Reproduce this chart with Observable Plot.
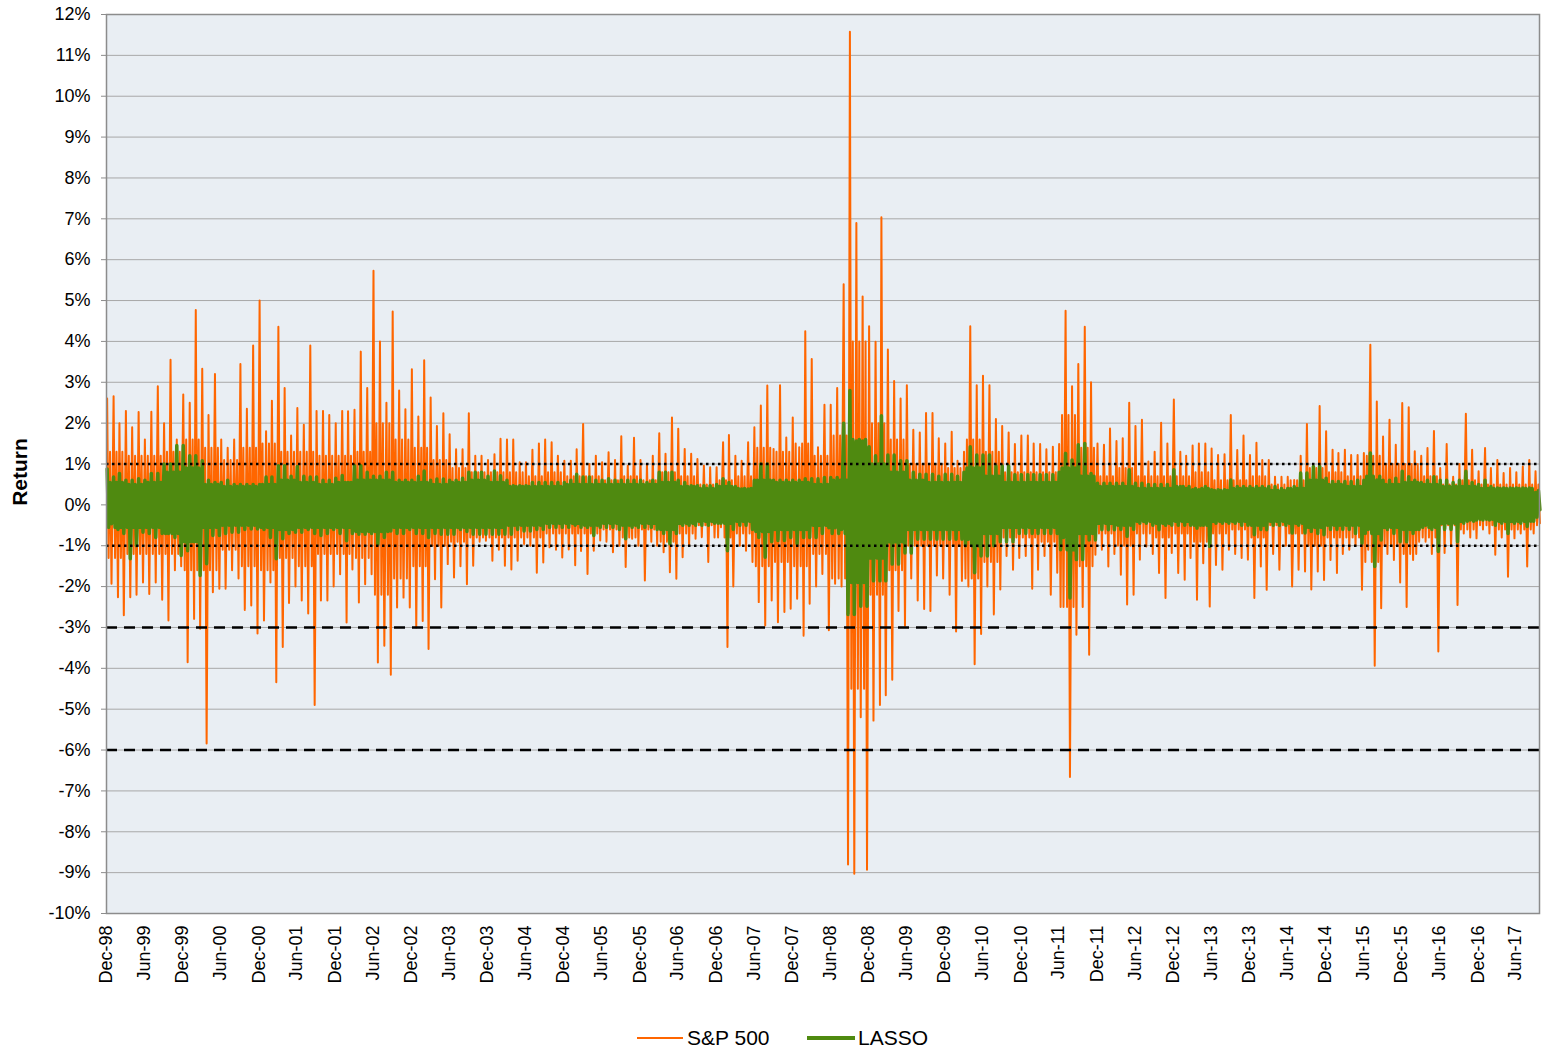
<!DOCTYPE html>
<html><head><meta charset="utf-8">
<script src="https://cdn.jsdelivr.net/npm/d3@7"></script>
<script src="https://cdn.jsdelivr.net/npm/@observablehq/plot@0.6"></script>
<style>
body{margin:0;background:#fff;font-family:"Liberation Sans",Arial,sans-serif;}
#wrap{position:relative;width:1544px;height:1048px;overflow:hidden;}
#chart{position:absolute;left:0;top:0;}
.item{position:absolute;top:1024px;height:28px;display:flex;align-items:center;font-size:21px;color:#000;white-space:nowrap;}
.sw{display:inline-block;width:46px;margin-right:4px;}
</style></head><body><div id="wrap"><div id="chart"></div>
<div class="item" style="left:637px"><span class="sw" style="height:2px;background:#FF6600"></span>S&amp;P 500</div>
<div class="item" style="left:807px"><span class="sw" style="height:4px;background:#4F8A10;width:48px;margin-right:3px"></span>LASSO</div>
</div>
<script>
// Monthly extremes of daily returns (%), Jan-1999 .. Oct-2017, one row per year
const spHi = [
 2.6, 2.66, 2.0, 2.3, 1.9, 2.27, 1.6, 2.28, 2.9, 2.0, 3.55, 1.6,
 2.7, 2.5, 4.77, 3.33, 2.2, 3.2, 1.6, 1.4, 1.6, 3.45, 2.35, 3.9,
 5.0, 1.8, 2.55, 4.36, 2.86, 1.7, 2.37, 1.96, 3.9, 2.3, 2.3, 2.2,
 2.0, 2.3, 2.29, 2.33, 3.75, 2.86, 5.73, 4.0, 2.5, 4.73, 2.8, 2.34,
 3.32, 2.16, 3.54, 2.63, 1.93, 2.24, 1.73, 1.36, 1.36, 2.24, 1.2, 1.2,
 1.1, 1.24, 1.62, 1.6, 1.6, 1.04, 1.04, 1.35, 1.5, 1.6, 1.53, 1.2,
 1.08, 1.08, 1.36, 1.98, 1.0, 1.2, 1.04, 1.29, 1.1, 1.68, 0.96, 1.64,
 1.1, 1.0, 1.2, 1.75, 1.25, 2.14, 1.86, 1.37, 1.25, 1.12, 0.96, 0.92,
 0.92, 1.53, 1.71, 1.2, 1.08, 1.53, 1.9, 2.43, 2.92, 1.37, 2.93, 1.65,
 2.14, 1.41, 4.25, 3.57, 1.41, 2.45, 2.45, 2.86, 5.4, 11.58, 6.9, 5.1,
 4.37, 3.99, 7.04, 3.8, 3.03, 2.6, 2.93, 1.84, 1.77, 2.25, 2.25, 1.63,
 1.5, 1.79, 1.08, 1.3, 4.37, 2.93, 3.16, 2.93, 2.1, 1.93, 1.77, 1.49,
 1.7, 1.7, 1.5, 1.49, 1.36, 1.42, 1.49, 4.75, 2.9, 3.45, 4.36, 3.0,
 1.5, 1.47, 1.87, 1.56, 1.63, 2.5, 1.93, 2.08, 1.06, 1.3, 2.01, 1.5,
 2.58, 1.3, 1.2, 1.45, 1.5, 1.5, 1.38, 1.22, 1.24, 2.2, 1.34, 1.7,
 1.22, 1.52, 1.1, 1.1, 0.69, 0.69, 0.69, 0.61, 1.2, 1.98, 0.94, 2.42,
 1.8, 1.35, 1.27, 1.35, 1.22, 1.22, 1.27, 3.92, 2.53, 1.67, 2.08, 1.47,
 2.49, 2.39, 1.31, 1.2, 1.39, 1.81, 0.9, 1.49, 0.69, 1.0, 2.23, 1.35,
 0.82, 1.39, 0.9, 1.1, 0.78, 0.9, 0.8, 0.94, 1.1, 0.82
];
const spLo = [
 -1.93, -2.26, -2.7, -2.26, -2.2, -1.9, -2.18, -1.9, -2.32, -2.83, -1.6, -1.5,
 -3.85, -2.79, -3.03, -5.84, -2.14, -2.05, -2.05, -1.6, -1.8, -2.57, -2.46, -3.15,
 -2.83, -1.9, -4.34, -3.48, -2.4, -2.0, -2.34, -2.66, -4.9, -2.34, -2.34, -2.0,
 -1.7, -2.88, -1.58, -2.39, -1.94, -1.7, -3.86, -3.45, -4.16, -2.51, -2.27, -2.51,
 -3.0, -2.84, -3.53, -1.82, -2.51, -1.45, -1.78, -1.5, -1.94, -1.49, -0.9, -0.88,
 -1.37, -1.1, -1.49, -1.58, -1.37, -0.96, -1.0, -1.66, -1.41, -1.04, -1.1, -1.29,
 -1.09, -1.48, -1.13, -1.69, -1.12, -0.87, -0.9, -1.16, -1.0, -1.52, -0.83, -1.0,
 -1.85, -0.9, -1.0, -1.16, -1.65, -1.81, -1.28, -1.0, -0.83, -0.79, -1.4, -0.8,
 -0.55, -3.48, -2.0, -1.0, -1.12, -1.4, -2.38, -2.95, -2.34, -2.87, -2.62, -2.54,
 -2.3, -3.2, -2.42, -2.0, -1.69, -3.07, -1.93, -2.0, -8.8, -9.03, -5.2, -8.93,
 -5.28, -4.9, -4.66, -4.28, -2.6, -2.96, -1.8, -2.34, -2.55, -2.6, -1.73, -1.8,
 -2.2, -3.1, -1.86, -2.0, -3.9, -3.16, -2.0, -2.68, -2.07, -1.25, -1.59, -1.3,
 -1.25, -2.05, -1.59, -1.25, -2.2, -1.66, -2.5, -6.66, -3.18, -2.5, -3.67, -1.22,
 -1.1, -1.51, -1.2, -1.71, -2.44, -2.2, -1.34, -1.02, -1.2, -1.67, -2.28, -1.18,
 -1.67, -1.83, -1.3, -2.32, -1.43, -2.49, -1.47, -1.59, -1.1, -1.2, -1.3, -1.34,
 -2.28, -1.51, -2.08, -1.2, -1.59, -1.0, -2.0, -1.59, -1.63, -2.07, -1.63, -1.84,
 -1.35, -1.67, -1.2, -1.1, -1.0, -2.08, -1.1, -3.94, -2.53, -1.2, -1.35, -1.9,
 -2.5, -1.35, -0.9, -0.9, -1.2, -3.59, -1.18, -1.0, -2.45, -0.7, -0.8, -0.82,
 -0.6, -0.7, -1.22, -0.8, -1.76, -0.82, -0.7, -1.51, -0.7, -0.45
];
const lsHi = [
 0.88, 0.68, 0.77, 0.6, 0.6, 0.64, 0.6, 0.77, 0.77, 1.0, 1.0, 1.45,
 1.45, 1.2, 1.2, 1.08, 0.6, 0.55, 0.55, 0.6, 0.5, 0.5, 0.5, 0.5,
 0.5, 0.68, 0.68, 0.96, 0.96, 0.7, 0.94, 0.7, 0.68, 0.68, 0.6, 0.6,
 0.65, 0.72, 0.55, 0.96, 0.96, 0.8, 0.7, 0.7, 0.8, 0.8, 0.6, 0.6,
 0.6, 0.7, 0.83, 0.6, 0.63, 0.63, 0.6, 0.6, 0.65, 0.8, 0.8, 0.8,
 0.7, 0.83, 0.71, 0.6, 0.47, 0.47, 0.47, 0.55, 0.55, 0.55, 0.55, 0.55,
 0.55, 0.6, 0.75, 0.68, 0.68, 0.6, 0.6, 0.64, 0.6, 0.6, 0.6, 0.6,
 0.6, 0.55, 0.6, 0.8, 0.8, 0.8, 0.6, 0.55, 0.47, 0.47, 0.47, 0.47,
 0.5, 0.64, 0.55, 0.45, 0.39, 0.39, 0.6, 1.0, 1.0, 0.6, 0.6, 0.6,
 0.6, 0.6, 0.64, 0.64, 0.64, 0.67, 0.67, 0.67, 2.0, 2.8, 1.56, 1.56,
 1.42, 1.2, 2.18, 1.22, 1.22, 1.08, 1.08, 0.8, 0.75, 0.75, 0.75, 0.7,
 0.75, 0.75, 0.7, 0.8, 1.42, 1.22, 1.22, 1.22, 0.95, 0.95, 0.95, 0.74,
 0.74, 0.74, 0.74, 0.74, 0.74, 0.74, 0.8, 1.26, 1.1, 1.47, 1.5, 0.77,
 0.53, 0.53, 0.53, 0.53, 0.53, 0.86, 0.53, 0.53, 0.5, 0.5, 0.5, 0.5,
 0.86, 0.45, 0.4, 0.37, 0.37, 0.45, 0.37, 0.37, 0.37, 0.61, 0.45, 0.45,
 0.45, 0.45, 0.45, 0.45, 0.45, 0.4, 0.4, 0.45, 0.78, 0.78, 0.94, 0.94,
 0.65, 0.57, 0.57, 0.57, 0.57, 0.6, 0.6, 1.27, 0.61, 0.6, 0.6, 0.65,
 0.82, 0.69, 0.6, 0.55, 0.6, 0.69, 0.6, 0.6, 0.55, 0.6, 0.82, 0.55,
 0.5, 0.6, 0.45, 0.41, 0.41, 0.41, 0.41, 0.41, 0.41, 0.3
];
const lsLo = [
 -0.46, -0.6, -0.7, -1.32, -1.0, -0.67, -0.7, -0.8, -0.7, -0.7, -0.8, -1.24,
 -1.12, -0.9, -1.73, -1.44, -0.75, -0.75, -0.7, -0.67, -0.67, -0.6, -0.59, -0.59,
 -0.6, -0.8, -1.32, -0.83, -0.7, -0.67, -0.67, -0.6, -0.7, -0.75, -0.7, -0.6,
 -0.7, -0.88, -0.7, -0.72, -0.72, -0.7, -0.96, -0.8, -0.64, -0.7, -0.7, -0.6,
 -0.7, -0.7, -0.8, -0.7, -0.72, -0.72, -0.72, -0.6, -0.65, -0.72, -0.72, -0.72,
 -0.72, -0.72, -0.72, -0.72, -0.6, -0.64, -0.64, -0.6, -0.6, -0.55, -0.55, -0.55,
 -0.55, -0.5, -0.55, -0.55, -0.75, -0.55, -0.55, -0.55, -0.6, -0.83, -0.55, -0.55,
 -0.55, -0.55, -0.6, -0.7, -0.95, -0.7, -0.5, -0.5, -0.5, -0.5, -0.5, -0.45,
 -0.45, -1.12, -0.6, -0.5, -0.5, -0.6, -0.8, -1.28, -0.9, -0.87, -0.87, -0.8,
 -0.95, -0.8, -0.8, -0.8, -0.7, -0.56, -0.56, -0.6, -2.68, -2.68, -2.48, -2.48,
 -1.86, -1.86, -1.86, -1.45, -1.45, -1.18, -1.18, -0.84, -0.84, -0.84, -0.84, -0.84,
 -0.84, -0.84, -0.84, -0.84, -1.66, -1.25, -1.25, -1.0, -0.9, -0.9, -0.9, -0.7,
 -0.7, -0.7, -0.7, -0.7, -0.7, -0.7, -0.8, -2.28, -1.34, -1.34, -0.86, -0.86,
 -0.61, -0.61, -0.61, -0.6, -0.77, -0.6, -0.45, -0.45, -0.5, -0.61, -0.5, -0.5,
 -0.5, -0.5, -0.5, -0.57, -0.5, -1.02, -0.45, -0.45, -0.45, -0.45, -0.5, -0.5,
 -0.73, -0.6, -0.61, -0.5, -0.5, -0.5, -0.69, -0.5, -0.69, -0.65, -0.7, -0.73,
 -0.6, -0.6, -0.6, -0.6, -0.7, -0.94, -0.6, -1.51, -0.86, -0.6, -0.7, -0.9,
 -0.9, -0.7, -0.6, -0.5, -0.6, -1.14, -0.6, -0.6, -0.9, -0.45, -0.37, -0.37,
 -0.37, -0.37, -0.5, -0.45, -0.7, -0.45, -0.45, -0.53, -0.4, -0.12
];
// Quarterly dense-core range of daily returns (%), 1999Q1 .. 2017Q4, one row per year
const spCoreHi = [
 1.3, 1.2, 1.2, 1.3,  1.6, 1.4, 1.1, 1.4,  1.5, 1.3, 1.3, 1.2,  1.2, 1.3, 2.0, 1.6,
 1.4, 1.1, 0.9, 0.8,  0.8, 0.8, 0.7, 0.8,  0.7, 0.7, 0.6, 0.7,  0.6, 0.8, 0.7, 0.5,
 0.6, 0.7, 1.4, 1.3,  1.5, 1.2, 1.7, 4.0,  2.0, 1.6, 1.0, 1.0,  0.9, 1.6, 1.3, 0.8,
 0.8, 0.8, 2.2, 1.4,  0.7, 0.9, 0.7, 0.7,  0.7, 0.8, 0.6, 0.6,  0.7, 0.5, 0.6, 0.9,
 0.8, 0.7, 1.2, 1.0,  1.0, 0.7, 0.5, 0.6,  0.5, 0.5, 0.5, 0.5
];
const spCoreLo = [
 -1.3, -1.2, -1.2, -1.2,  -1.6, -1.6, -1.1, -1.5,  -1.6, -1.3, -1.5, -1.2,  -1.2, -1.3, -2.2, -1.8,
 -1.5, -1.0, -0.9, -0.8,  -0.8, -0.8, -0.8, -0.7,  -0.7, -0.7, -0.6, -0.8,  -0.6, -0.9, -0.7, -0.5,
 -0.8, -0.7, -1.5, -1.4,  -1.5, -1.2, -1.8, -4.5,  -2.2, -1.6, -1.0, -1.0,  -1.0, -1.8, -1.4, -0.8,
 -0.8, -0.9, -2.5, -1.5,  -0.7, -1.0, -0.7, -0.8,  -0.7, -0.9, -0.7, -0.6,  -0.8, -0.5, -0.7, -1.0,
 -0.8, -0.8, -1.4, -1.0,  -1.2, -0.8, -0.5, -0.6,  -0.5, -0.6, -0.6, -0.5
];
const lsCoreHi = [
 0.55, 0.5, 0.55, 0.8,  0.9, 0.5, 0.45, 0.45,  0.5, 0.6, 0.55, 0.5,  0.55, 0.6, 0.6, 0.55,
 0.55, 0.5, 0.55, 0.6,  0.55, 0.45, 0.45, 0.45,  0.5, 0.5, 0.5, 0.5,  0.5, 0.55, 0.45, 0.4,
 0.45, 0.4, 0.6, 0.55,  0.55, 0.5, 0.6, 1.6,  1.0, 0.8, 0.6, 0.55,  0.55, 0.9, 0.7, 0.55,
 0.55, 0.55, 0.9, 0.7,  0.45, 0.45, 0.4, 0.4,  0.45, 0.4, 0.35, 0.4,  0.4, 0.35, 0.4, 0.6,
 0.5, 0.45, 0.7, 0.5,  0.55, 0.5, 0.45, 0.45,  0.4, 0.4, 0.4, 0.35
];
const lsCoreLo = [
 -0.55, -0.55, -0.55, -0.7,  -0.9, -0.55, -0.5, -0.5,  -0.55, -0.6, -0.55, -0.55,  -0.55, -0.65, -0.65, -0.55,
 -0.55, -0.55, -0.55, -0.55,  -0.55, -0.5, -0.5, -0.45,  -0.45, -0.5, -0.45, -0.5,  -0.45, -0.6, -0.45, -0.4,
 -0.45, -0.4, -0.65, -0.6,  -0.6, -0.5, -0.7, -1.9,  -1.3, -0.9, -0.6, -0.6,  -0.6, -1.0, -0.7, -0.55,
 -0.55, -0.55, -1.1, -0.7,  -0.45, -0.5, -0.4, -0.45,  -0.4, -0.5, -0.4, -0.4,  -0.5, -0.4, -0.45, -0.55,
 -0.5, -0.5, -0.7, -0.55,  -0.6, -0.55, -0.45, -0.4,  -0.35, -0.4, -0.4, -0.3
];
const tickLabels = ["Dec-98","Jun-99","Dec-99","Jun-00","Dec-00","Jun-01","Dec-01","Jun-02","Dec-02","Jun-03",
 "Dec-03","Jun-04","Dec-04","Jun-05","Dec-05","Jun-06","Dec-06","Jun-07","Dec-07","Jun-08","Dec-08","Jun-09",
 "Dec-09","Jun-10","Dec-10","Jun-11","Dec-11","Jun-12","Dec-12","Jun-13","Dec-13","Jun-14","Dec-14","Jun-15",
 "Dec-15","Jun-16","Dec-16","Jun-17"];
const yTicks = [-10,-9,-8,-7,-6,-5,-4,-3,-2,-1,0,1,2,3,4,5,6,7,8,9,10,11,12];
const dottedLevels = [1, -1];
const dashedLevels = [-3, -6];

const parseM = d3.utcParse("%b-%y");
const endOfMonth = d => d3.utcDay.offset(d3.utcMonth.offset(d, 1), -1);
const xTicks = tickLabels.map(s => endOfMonth(parseM(s)));
const START = xTicks[0];
const END = new Date(Date.UTC(2017, 9, 22));

const rows = [];
spHi.forEach((v, i) => {
  const q = Math.floor(i / 3);
  rows.push({date: new Date(Date.UTC(1999, i, 3)),  sp: v,            ls: lsHi[i]});
  rows.push({date: new Date(Date.UTC(1999, i, 10)), sp: spCoreLo[q],  ls: lsCoreLo[q]});
  rows.push({date: new Date(Date.UTC(1999, i, 17)), sp: spCoreHi[q],  ls: lsCoreHi[q]});
  rows.push({date: new Date(Date.UTC(1999, i, 24)), sp: spLo[i],      ls: lsLo[i]});
});

const chart = Plot.plot({
  width: 1544, height: 1000,
  marginLeft: 106, marginRight: 5, marginTop: 14, marginBottom: 87,
  style: {fontFamily: '"Liberation Sans", Arial, sans-serif', fontSize: "18px", color: "#000", background: "transparent"},
  x: {type: "utc", domain: [START, END]},
  y: {domain: [-10, 12]},
  marks: [
    Plot.frame({fill: "#E9EEF3"}),
    Plot.ruleY(yTicks, {stroke: "#A8A8A8", strokeWidth: 1}),
    Plot.lineY(rows, {x: "date", y: "sp", stroke: "#FF6600", strokeWidth: 2}),
    Plot.lineY(rows, {x: "date", y: "ls", stroke: "#4F8A10", strokeWidth: 3.5}),
    Plot.ruleY(dottedLevels, {stroke: "#000", strokeWidth: 2.5, strokeDasharray: "2.5,3.5"}),
    Plot.ruleY(dashedLevels, {stroke: "#000", strokeWidth: 2.5, strokeDasharray: "11,7"}),
    Plot.frame({stroke: "#8C8C8C", strokeWidth: 1.5}),
    Plot.axisY({ticks: yTicks, tickFormat: d => d + "%", tickSize: 5, tickPadding: 11, label: null, stroke: "#8C8C8C"}),
    Plot.axisX({ticks: xTicks, tickFormat: "%b-%y", tickRotate: -90, tickSize: 0, tickPadding: 12, label: null}),
    Plot.text(["Return"], {frameAnchor: "left", dx: -86, dy: 8, rotate: -90, textAnchor: "middle", fontWeight: "bold", fontSize: 21})
  ]
});
document.getElementById("chart").appendChild(chart);
</script>
</body></html>
